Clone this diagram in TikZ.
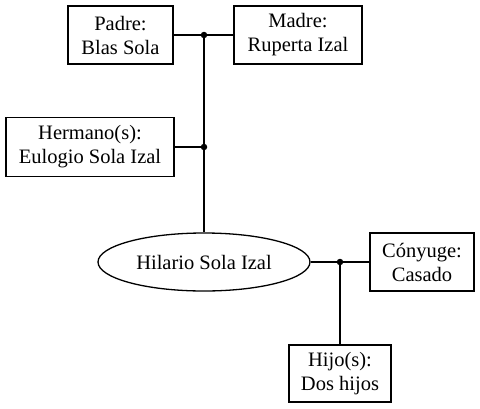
\documentclass[tikz,border=0pt]{standalone}
\usepackage{fontspec}
\setmainfont{Liberation Serif}
\usetikzlibrary{shapes.geometric}
\begin{document}
\begin{tikzpicture}[x=1pt,y=-1pt,
  every node/.style={font=\fontsize{20.5}{24}\selectfont, inner sep=0pt},
  rel/.style={draw, line width=1.3pt, rectangle, align=center, minimum height=58pt},
  self/.style={draw, line width=1.3pt, ellipse, minimum width=212pt, minimum height=58pt},
  link/.style={line width=1.3pt},
  dot/.style={circle, fill=black, minimum size=6.5pt, inner sep=0pt}]
\useasboundingbox (0,0) rectangle (480,408);
\node[rel, minimum width=105pt] (padre) at (120.5,35) {Padre:\\Blas Sola};
\node[rel, minimum width=128pt] (madre) at (298,35) {Madre:\\Ruperta Izal};
\node[rel, minimum width=168pt, minimum height=59pt] (hermano) at (90,147) {Hermano(s):\\Eulogio Sola Izal};
\node[self] (hilario) at (204,262) {Hilario Sola Izal};
\node[rel, minimum width=104pt] (conyuge) at (422,262) {Cónyuge:\\Casado};
\node[rel, minimum width=102pt, minimum height=57pt] (hijo) at (340,373.5) {Hijo(s):\\Dos hijos};
\node[dot] (j1) at (204,35) {};
\node[dot] (j2) at (204,147) {};
\node[dot] (j3) at (340,262) {};
\draw[link] (padre.east) -- (j1.center) -- (madre.west);
\draw[link] (j1.center) -- (j2.center) -- (hilario.north);
\draw[link] (hermano.east) -- (j2.center);
\draw[link] (hilario.east) -- (j3.center) -- (conyuge.west);
\draw[link] (j3.center) -- (hijo.north);
\end{tikzpicture}
\end{document}
